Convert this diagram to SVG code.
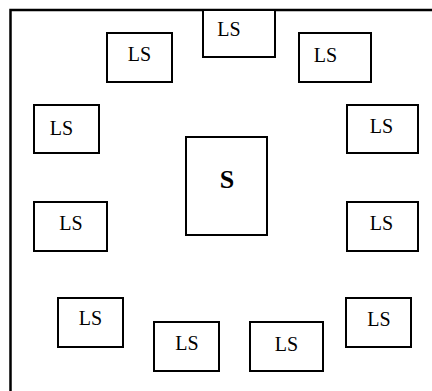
<svg xmlns="http://www.w3.org/2000/svg" width="432" height="391" viewBox="0 0 432 391">
  <style>
    .box { fill: #ffffff; stroke: #000000; stroke-width: 2; }
    .lbl { font-family: "Liberation Serif", "Times New Roman", serif; font-size: 20px; fill: #000000; text-anchor: middle; }
    .main { font-size: 26px; font-weight: bold; }
    .frame { fill: none; stroke: #000000; stroke-width: 2.5; }
  </style>
  <rect width="432" height="391" fill="#ffffff"/>

  <!-- enclosing wall: top and left sides only -->
  <path class="frame" d="M10.5 391 V10 H432"/>

  <!-- central station -->
  <g id="S">
    <rect class="box" x="186" y="137" width="81" height="98"/>
    <text class="lbl main" x="227" y="188">S</text>
  </g>

  <!-- surrounding stations -->
  <g id="LS-top">
    <rect class="box" x="203" y="10" width="72" height="47"/>
    <text class="lbl" x="229" y="36">LS</text>
  </g>
  <g id="LS-top-left">
    <rect class="box" x="107" y="33" width="65" height="49"/>
    <text class="lbl" x="139.5" y="61">LS</text>
  </g>
  <g id="LS-top-right">
    <rect class="box" x="299" y="33" width="72" height="49"/>
    <text class="lbl" x="325.5" y="62">LS</text>
  </g>
  <g id="LS-left-upper">
    <rect class="box" x="34" y="105" width="65" height="48"/>
    <text class="lbl" x="61.5" y="135">LS</text>
  </g>
  <g id="LS-left-lower">
    <rect class="box" x="34" y="202" width="73" height="49"/>
    <text class="lbl" x="71" y="230">LS</text>
  </g>
  <g id="LS-right-upper">
    <rect class="box" x="347" y="105" width="71" height="48"/>
    <text class="lbl" x="381.5" y="133">LS</text>
  </g>
  <g id="LS-right-lower">
    <rect class="box" x="347" y="202" width="71" height="49"/>
    <text class="lbl" x="381.5" y="230">LS</text>
  </g>
  <g id="LS-bottom-left">
    <rect class="box" x="58" y="298" width="65" height="49"/>
    <text class="lbl" x="90.5" y="325">LS</text>
  </g>
  <g id="LS-bottom-mid-left">
    <rect class="box" x="154" y="322" width="65" height="49"/>
    <text class="lbl" x="187" y="350">LS</text>
  </g>
  <g id="LS-bottom-mid-right">
    <rect class="box" x="250" y="322" width="73" height="49"/>
    <text class="lbl" x="286.5" y="351">LS</text>
  </g>
  <g id="LS-bottom-right">
    <rect class="box" x="346" y="298" width="65" height="49"/>
    <text class="lbl" x="379" y="326">LS</text>
  </g>

  <!-- no connectors between stations -->
  <g id="connectors"/>
</svg>
